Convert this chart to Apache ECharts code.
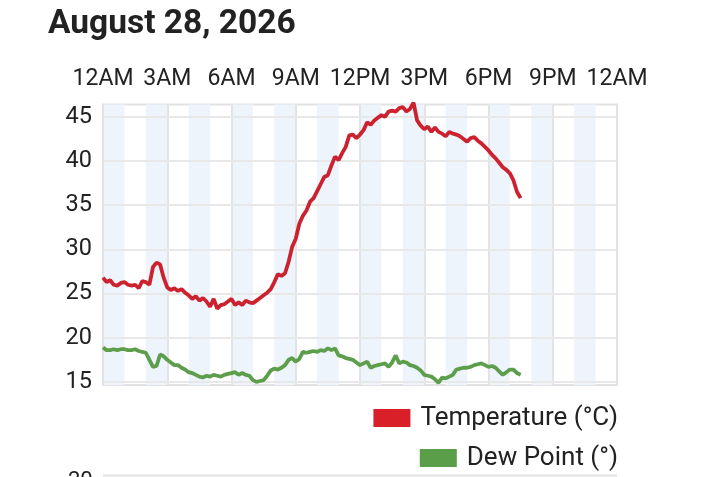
<!DOCTYPE html>
<html>
<head>
<meta charset="utf-8">
<script src="https://cdn.jsdelivr.net/npm/echarts@6/dist/echarts.min.js"></script>
<style>
html,body{margin:0;padding:0;background:#fff;}
#chart{width:720px;height:477px;}
</style>
</head>
<body>
<div id="chart"></div>
<script>
// sampling step: 10 minutes, starting at midnight
const stepMinutes = 10;
const tickLabels = ['12AM','3AM','6AM','9AM','12PM','3PM','6PM','9PM','12AM'];
const yTickValues = [15, 20, 25, 30, 35, 40, 45];
const temperature = [
26.8,26.3,26.5,26.0,25.9,26.2,26.3,26.0,25.9,26.0,25.6,26.4,
26.3,26.0,28.0,28.5,28.3,26.8,25.7,25.4,25.6,25.3,25.5,25.1,
24.8,24.4,24.7,24.2,24.5,24.1,23.5,24.4,23.3,23.7,23.8,24.1,
24.4,23.7,24.0,23.7,24.2,24.0,23.9,24.2,24.5,24.8,25.1,25.5,
26.3,27.2,27.0,27.3,28.6,30.3,31.2,32.9,33.8,34.4,35.4,35.8,
36.6,37.4,38.2,38.4,39.5,40.5,40.1,40.9,41.6,42.9,43.0,42.6,
43.0,43.5,44.4,44.1,44.6,44.9,45.2,45.0,45.6,45.7,45.6,46.0,
46.1,45.6,45.9,46.6,44.6,44.0,43.6,43.9,43.3,43.8,43.3,43.1,
42.8,43.3,43.1,43.0,42.8,42.5,42.2,42.6,42.7,42.3,42.0,41.6,
41.2,40.7,40.3,39.8,39.3,39.0,38.6,37.8,36.5,35.8
];
const dewPoint = [
18.9,18.6,18.6,18.7,18.6,18.7,18.7,18.6,18.6,18.7,18.5,18.4,
18.3,17.5,16.7,16.8,18.1,17.9,17.5,17.2,16.9,16.9,16.6,16.4,
16.1,16.0,15.8,15.6,15.5,15.7,15.6,15.8,15.7,15.6,15.8,15.9,
16.0,16.1,15.8,16.0,15.8,15.7,15.2,15.0,15.1,15.2,15.7,16.3,
16.5,16.4,16.6,16.9,17.5,17.7,17.3,17.6,18.4,18.3,18.4,18.5,
18.4,18.6,18.5,18.8,18.6,18.8,18.0,17.9,17.7,17.6,17.5,17.2,
16.9,17.1,17.3,16.6,16.8,16.9,17.0,17.1,16.7,17.2,18.0,17.1,
17.3,17.2,16.9,16.8,16.6,16.3,15.8,15.7,15.6,15.3,14.9,15.5,
15.4,15.6,15.8,16.4,16.5,16.6,16.6,16.7,16.9,17.0,17.1,16.9,
16.7,16.8,16.6,16.2,15.8,16.1,16.4,16.4,16.0,15.8
];
// shaded hour bands [start hour, end hour]
const bands = [[0,1],[2,3],[4,5],[6,7],[8,9],[10,11],[12,13],[14,15],[16,17],[18,19],[20,21],[22,23]];

const hours = temperature.map((_, i) => i * stepMinutes / 60);
const tempData = temperature.map((v, i) => [hours[i], v]);
const dewData = dewPoint.map((v, i) => [hours[i], v]);

const FONT = 'Roboto';
const chart = echarts.init(document.getElementById('chart'), null, {renderer: 'canvas'});
chart.setOption({
  animation: false,
  backgroundColor: '#fff',
  textStyle: {fontFamily: FONT},
  title: {
    text: 'August 28, 2026',
    left: 43, top: 3,
    textStyle: {fontFamily: FONT, fontSize: 33.5, fontWeight: 'bold', color: '#222'}
  },
  grid: {
    left: 103, right: 103, top: 104.5, bottom: 92,
    show: true, borderColor: '#e2e2e2', borderWidth: 2, backgroundColor: 'transparent'
  },
  legend: [{
    data: ['Temperature (°C)'],
    right: 102, top: 405, padding: 0,
    icon: 'rect', itemWidth: 37, itemHeight: 18, itemGap: 10,
    textStyle: {fontFamily: FONT, fontSize: 26, color: '#222', padding: [0, 0, 0, 5]}
  }, {
    data: ['Dew Point (°)'],
    right: 102, top: 445, padding: 0,
    icon: 'rect', itemWidth: 37, itemHeight: 18, itemGap: 10,
    textStyle: {fontFamily: FONT, fontSize: 26, color: '#222', padding: [0, 0, 0, 5]}
  }],
  xAxis: {
    type: 'value', position: 'top', min: 0, max: 24, interval: 3, z: 2,
    axisLine: {show: false}, axisTick: {show: false},
    axisLabel: {
      fontFamily: FONT, fontSize: 23, color: '#222', margin: 14,
      formatter: v => tickLabels[Math.round(v / 3)]
    },
    splitLine: {show: true, lineStyle: {color: '#e3e3e3', width: 2}}
  },
  yAxis: {
    type: 'value', min: 14.65, max: 46.4, z: 2,
    axisLine: {show: false},
    axisTick: {show: false, customValues: yTickValues},
    axisLabel: {
      fontFamily: FONT, fontSize: 23.5, color: '#222', margin: 11,
      customValues: yTickValues,
      formatter: v => String(Math.round(v))
    },
    splitLine: {show: false}
  },
  series: [{
    type: 'line', name: 'bands', data: [], z: 1, silent: true,
    markArea: {
      silent: true, z: 1,
      itemStyle: {color: '#eef4fb'},
      data: bands.map(b => [{xAxis: b[0]}, {xAxis: b[1]}])
    }
  }, {
    type: 'line', name: 'hgrid', data: [], z: 2, silent: true,
    markLine: {
      silent: true, z: 2, symbol: 'none', label: {show: false},
      lineStyle: {color: '#e8e8e8', width: 2, type: 'solid'},
      data: yTickValues.map(v => ({yAxis: v}))
    }
  }, {
    type: 'line', name: 'Temperature (°C)', data: tempData, z: 10,
    showSymbol: false, clip: false,
    lineStyle: {color: '#cc2230', width: 3.8},
    itemStyle: {color: '#d91f28'}
  }, {
    type: 'line', name: 'Dew Point (°)', data: dewData, z: 10,
    showSymbol: false, clip: false,
    lineStyle: {color: '#5c9e4b', width: 3.8},
    itemStyle: {color: '#5a9e4a'}
  }],
  graphic: [{
    type: 'text', left: 68, top: 470,
    style: {text: '20', fontFamily: FONT, fontSize: 22, fill: '#222'}
  }, {
    type: 'line', shape: {x1: 103, y1: 475.5, x2: 617, y2: 475.5},
    style: {stroke: '#e2e2e2', lineWidth: 2}
  }]
});
</script>
</body>
</html>
